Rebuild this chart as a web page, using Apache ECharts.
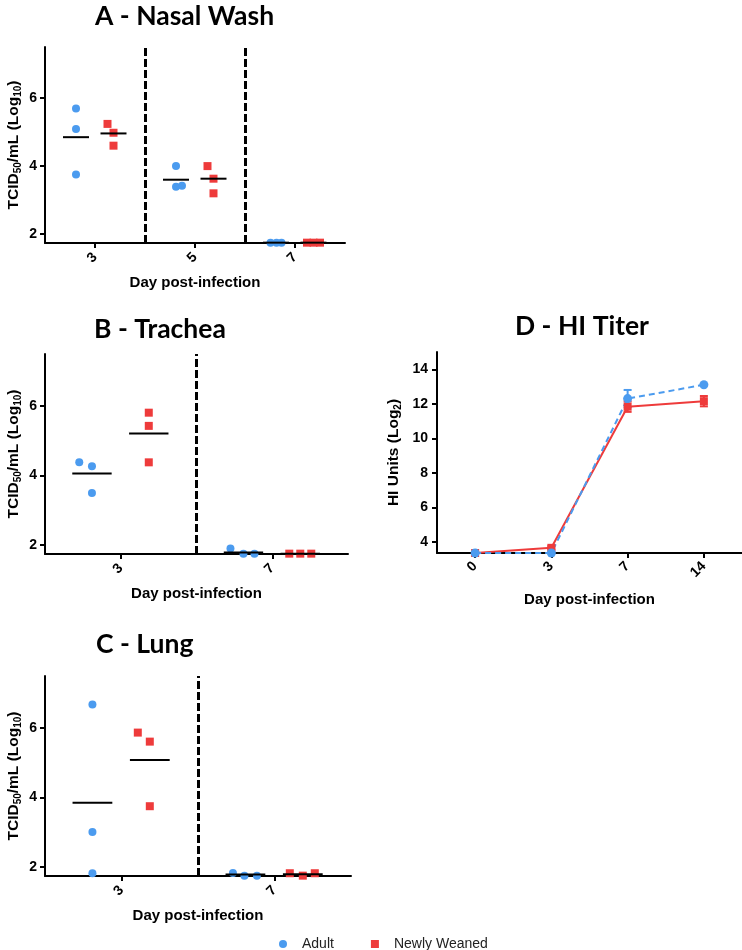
<!DOCTYPE html>
<html>
<head>
<meta charset="utf-8">
<script src="https://cdn.jsdelivr.net/npm/echarts@6/dist/echarts.min.js"></script>
<style>
html,body{margin:0;padding:0;background:#fff;}
#chart{width:742px;height:950px;}
</style>
</head>
<body>
<div id="chart"></div>
<script>
// ---------------- data ----------------
const daysA = ['3', '5', '7'];
const adultA = [[5.69, 5.09, 3.75], [4.0, 3.39, 3.42], [1.75, 1.75, 1.75]];
const weanedA = [[5.24, 4.98, 4.6], [4.0, 3.63, 3.2], [1.75, 1.75, 1.75]];
const adultMeanA = [4.85, 3.6, 1.75];
const weanedMeanA = [4.96, 3.63, 1.75];

const daysB = ['3', '7'];
const adultB = [[4.38, 4.27, 3.5], [1.9, 1.75, 1.75]];
const weanedB = [[5.81, 5.43, 4.38], [1.75, 1.75, 1.75]];
const adultMeanB = [4.06, 1.78];
const weanedMeanB = [5.21, 1.75];

const daysC = ['3', '7'];
const adultC = [[6.68, 3.01, 1.82], [1.83, 1.75, 1.75]];
const weanedC = [[5.87, 5.61, 3.75], [1.82, 1.75, 1.82]];
const adultMeanC = [3.85, 1.78];
const weanedMeanC = [5.08, 1.79];

const daysD = ['0', '3', '7', '14'];
const adultD = [3.35, 3.35, 12.3, 13.1];
const adultErrD = [0, 0, 0.5, 0];
const weanedD = [3.35, 3.65, 11.83, 12.15];
const weanedErrD = [0, 0.1, 0.3, 0.3];

const tcidTicks = [2, 4, 6];
const hiTicks = [4, 6, 8, 10, 12, 14];

// ---------------- layout / style ----------------
const BLUE = '#4b9bef';
const RED = '#ee3b3b';
const FONT = 'Liberation Sans';
const grids = [
  {left: 45, top: 47, width: 300, height: 196},
  {left: 45, top: 354, width: 303, height: 200},
  {left: 45, top: 676, width: 306, height: 200},
  {left: 437, top: 352, width: 305, height: 201}
];
// horizontal jitter in px, relative to group centre
const jitter = [
  {adult: [[0, 0, 0], [0, 0, 6], [-5.5, 0.5, 5.5]], weaned: [[-6, 0, 0], [-6, 0, 0], [-6.5, 0, 6.5]]},
  {adult: [[-12.7, 0, 0], [-13, 0, 11]], weaned: [[0, 0, 0], [-11, 0, 11]]},
  {adult: [[0, 0, 0], [-12.5, -1, 11.5]], weaned: [[-12, 0, 0], [-13, 0, 12]]}
];
const ADULT_OFF = -0.19, WEANED_OFF = 0.185, MEAN_HALF = 0.13;

const panels = [
  {days: daysA, adult: adultA, weaned: weanedA, am: adultMeanA, wm: weanedMeanA},
  {days: daysB, adult: adultB, weaned: weanedB, am: adultMeanB, wm: weanedMeanB},
  {days: daysC, adult: adultC, weaned: weanedC, am: adultMeanC, wm: weanedMeanC}
];

const boldTick = {fontFamily: FONT, fontWeight: 'bold', fontSize: 14, color: '#000'};
const nameRich = {
  a: {fontFamily: FONT, fontWeight: 'bold', fontSize: 15.5, color: '#000', lineHeight: 18},
  s: {fontFamily: FONT, fontWeight: 'bold', fontSize: 10, color: '#000', verticalAlign: 'bottom', lineHeight: 18}
};
const axisLine = {show: true, onZero: false, lineStyle: {color: '#000', width: 2}};

const xAxes = [], yAxes = [], series = [];

function meanRender(params, api) {
  const p1 = api.coord([api.value(0), api.value(2)]);
  const p2 = api.coord([api.value(1), api.value(2)]);
  return {type: 'line', shape: {x1: p1[0], y1: p1[1], x2: p2[0], y2: p2[1]}, style: {stroke: '#000', lineWidth: 2}};
}

panels.forEach((p, gi) => {
  const n = p.days.length;
  const catW = grids[gi].width / n;
  const centres = p.days.map((d, i) => i + 0.5);
  xAxes.push({
    type: 'value', gridIndex: gi, min: 0, max: n,
    axisLine: axisLine,
    axisTick: {show: true, customValues: centres, length: 5, lineStyle: {color: '#000', width: 2}},
    axisLabel: {customValues: centres, formatter: v => p.days[Math.floor(v)], rotate: 45, margin: 12, ...boldTick},
    splitLine: {show: false},
    name: 'Day post-infection', nameLocation: 'middle', nameGap: 32,
    nameTextStyle: {fontFamily: FONT, fontWeight: 'bold', fontSize: 15, color: '#000'}
  });
  yAxes.push({
    type: 'value', gridIndex: gi, min: 1.74, max: 7.5,
    axisLine: axisLine,
    axisTick: {show: true, customValues: tcidTicks, length: 5, lineStyle: {color: '#000', width: 2}},
    axisLabel: {customValues: tcidTicks, margin: 8, ...boldTick},
    splitLine: {show: false},
    name: '{a|TCID}{s|50}{a|/mL (Log}{s|10}{a|)}', nameLocation: 'middle', nameGap: 22,
    nameTextStyle: {rich: nameRich}
  });
  const mk = (vals, off, jit) => {
    const out = [];
    vals.forEach((arr, i) => arr.forEach((v, k) => out.push([i + 0.5 + off + jit[i][k] / catW, v])));
    return out;
  };
  const seps = [];
  for (let i = 1; i < n; i++) seps.push({xAxis: i});
  series.push({
    type: 'scatter', name: 'Adult', xAxisIndex: gi, yAxisIndex: gi, clip: false,
    symbol: 'circle', symbolSize: 8, itemStyle: {color: BLUE, opacity: 1},
    data: mk(p.adult, ADULT_OFF, jitter[gi].adult),
    markLine: {silent: true, symbol: ['none', 'none'], label: {show: false},
      lineStyle: {color: '#000', width: 3, type: [8, 3]}, data: seps, animation: false}
  });
  series.push({
    type: 'scatter', name: 'Newly Weaned', xAxisIndex: gi, yAxisIndex: gi, clip: false,
    symbol: 'rect', symbolSize: 8, itemStyle: {color: RED, opacity: 1},
    data: mk(p.weaned, WEANED_OFF, jitter[gi].weaned)
  });
  const means = [];
  p.am.forEach((m, i) => means.push([i + 0.5 + ADULT_OFF - MEAN_HALF, i + 0.5 + ADULT_OFF + MEAN_HALF, m]));
  p.wm.forEach((m, i) => means.push([i + 0.5 + WEANED_OFF - MEAN_HALF, i + 0.5 + WEANED_OFF + MEAN_HALF, m]));
  series.push({
    type: 'custom', name: 'mean', xAxisIndex: gi, yAxisIndex: gi, z: 5, silent: true,
    renderItem: meanRender, encode: {x: [0, 1], y: 2}, data: means
  });
});

// Panel D
xAxes.push({
  type: 'category', gridIndex: 3, data: daysD, boundaryGap: true,
  axisLine: axisLine,
  axisTick: {show: true, alignWithLabel: true, length: 5, lineStyle: {color: '#000', width: 2}},
  axisLabel: {rotate: 45, margin: 11, ...boldTick},
  name: 'Day post-infection', nameLocation: 'middle', nameGap: 39,
  nameTextStyle: {fontFamily: FONT, fontWeight: 'bold', fontSize: 15, color: '#000'}
});
yAxes.push({
  type: 'value', gridIndex: 3, min: 3.35, max: 15,
  axisLine: axisLine,
  axisTick: {show: true, customValues: hiTicks, length: 5, lineStyle: {color: '#000', width: 2}},
  axisLabel: {customValues: hiTicks, margin: 9, ...boldTick},
  splitLine: {show: false},
  name: '{a|HI Units (Log}{s|2}{a|)}', nameLocation: 'middle', nameGap: 34,
  nameTextStyle: {rich: nameRich}
});
function errRender(color) {
  return function (params, api) {
    const x = api.value(0), m = api.value(1), e = api.value(2);
    if (!e) return null;
    const top = api.coord([x, m + e]);
    const bot = api.coord([x, m - e]);
    const hw = 4;
    const st = {stroke: color, lineWidth: 2};
    return {type: 'group', children: [
      {type: 'line', shape: {x1: top[0], y1: top[1], x2: bot[0], y2: bot[1]}, style: st},
      {type: 'line', shape: {x1: top[0] - hw, y1: top[1], x2: top[0] + hw, y2: top[1]}, style: st},
      {type: 'line', shape: {x1: bot[0] - hw, y1: bot[1], x2: bot[0] + hw, y2: bot[1]}, style: st}
    ]};
  };
}
series.push({
  type: 'custom', name: 'errW', xAxisIndex: 3, yAxisIndex: 3, silent: true,
  renderItem: errRender(RED), encode: {x: 0, y: 1},
  data: weanedD.map((v, i) => [i, v, weanedErrD[i]])
});
series.push({
  type: 'line', name: 'Newly Weaned', xAxisIndex: 3, yAxisIndex: 3,
  symbol: 'rect', symbolSize: 8, showAllSymbol: true,
  itemStyle: {color: RED}, lineStyle: {color: RED, width: 2},
  data: weanedD
});
series.push({
  type: 'custom', name: 'errA', xAxisIndex: 3, yAxisIndex: 3, silent: true,
  renderItem: errRender(BLUE), encode: {x: 0, y: 1},
  data: adultD.map((v, i) => [i, v, adultErrD[i]])
});
series.push({
  type: 'line', name: 'Adult', xAxisIndex: 3, yAxisIndex: 3,
  symbol: 'circle', symbolSize: 9, showAllSymbol: true,
  itemStyle: {color: BLUE}, lineStyle: {color: BLUE, width: 2, type: [6, 4]},
  data: adultD
});

const titleStyle = {fontFamily: 'Lato', fontWeight: 'bold', fontSize: 26.5, color: '#000'};
const option = {
  animation: false,
  backgroundColor: '#fff',
  title: [
    {text: 'A - Nasal Wash', left: 90, top: -2, textStyle: titleStyle},
    {text: 'B - Trachea', left: 89, top: 311, textStyle: titleStyle},
    {text: 'C - Lung', left: 91, top: 626, textStyle: titleStyle},
    {text: 'D - HI Titer', left: 510, top: 308, textStyle: titleStyle}
  ],
  legend: {
    left: 274, top: 932, itemWidth: 8, itemHeight: 8, itemGap: 37,
    data: [{name: 'Adult', icon: 'circle'}, {name: 'Newly Weaned', icon: 'rect'}],
    textStyle: {fontFamily: FONT, fontSize: 14, color: '#222', padding: [0, 0, 0, 10]}
  },
  grid: grids.map(g => Object.assign({containLabel: false}, g)),
  xAxis: xAxes,
  yAxis: yAxes,
  series: series
};
const chart = echarts.init(document.getElementById('chart'), null, {renderer: 'canvas'});
chart.setOption(option);
</script>
</body>
</html>
